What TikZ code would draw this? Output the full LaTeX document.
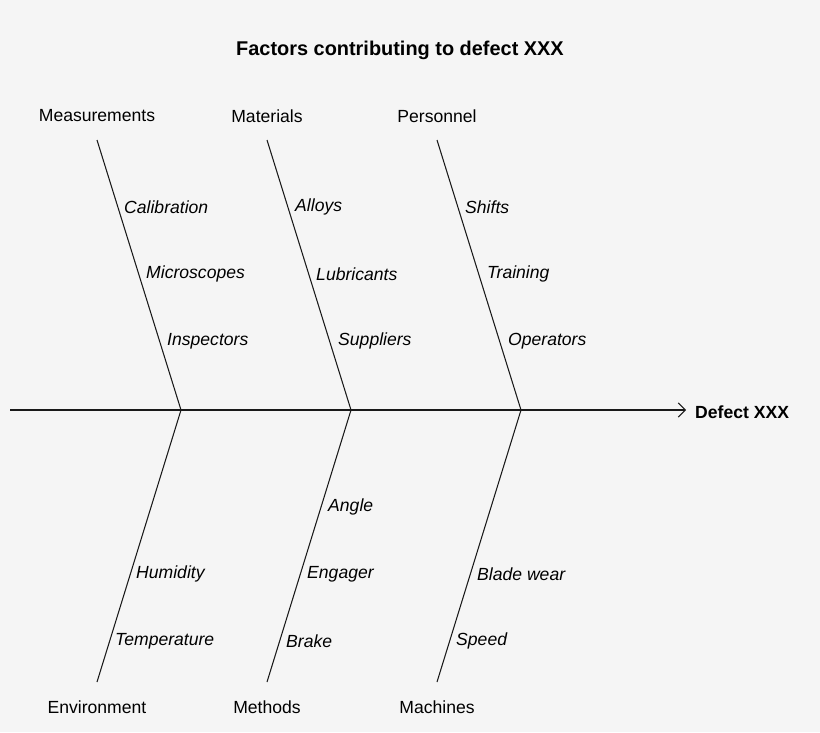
\documentclass[tikz,border=0pt]{standalone}
\usepackage{fontspec}
\setmainfont{Liberation Sans}
\usepackage{xcolor}
\usetikzlibrary{arrows.meta}
\definecolor{bgGray}{RGB}{245,245,245}
\definecolor{lineGray}{RGB}{25,25,25}
\tikzset{
  cause/.style={anchor=west, font=\fontsize{15}{18}\selectfont\itshape, inner sep=0pt},
  branch/.style={font=\fontsize{15}{18}\selectfont, inner sep=0pt},
  bone/.style={draw=lineGray, line width=0.9pt},
}
\begin{document}
\begin{tikzpicture}[x=0.03cm, y=-0.03cm]
  \fill[bgGray] (0,0) rectangle (820,732);
  \node[font=\fontsize{17}{20}\selectfont\bfseries] (title) at (400,50) {Factors contributing to defect XXX};

  % spine
  \coordinate (tail) at (10,410);
  \coordinate (head) at (686,410);
  \node[anchor=west, inner sep=0pt, font=\fontsize{15}{18}\selectfont\bfseries] (effect) at (695,412) {Defect XXX};
  \draw[bone, -{Straight Barb[length=6pt]}] (tail) -- (head);

  % bones
  \foreach \name/\xb/\lbl in {meas/97/Measurements, mat/267/Materials, pers/437/Personnel}
  {
    \coordinate (\name top) at (\xb,140);
    \coordinate (\name joint) at (\xb+84,410);
    \draw[bone] (\name top) -- (\name joint);
    \node[branch] (\name) at (\xb,116) {\lbl};
  }
  \foreach \name/\xb/\lbl in {env/97/Environment, meth/267/Methods, mach/437/Machines}
  {
    \coordinate (\name bot) at (\xb,682);
    \coordinate (\name joint) at (\xb+84,410);
    \draw[bone] (\name joint) -- (\name bot);
    \node[branch] (\name) at (\xb,707) {\lbl};
  }

  % causes
  \node[cause] (calib) at (124,207) {Calibration};
  \node[cause] (micro) at (146,274) {Microscopes};
  \node[cause] (insp) at (167,341) {Inspectors};
  \node[cause] (alloy) at (295,207) {Alloys};
  \node[cause] (lubr) at (316,274) {Lubricants};
  \node[cause] (supp) at (338,341) {Suppliers};
  \node[cause] (shift) at (465,207) {Shifts};
  \node[cause] (train) at (487,274) {Training};
  \node[cause] (oper) at (508,341) {Operators};
  \node[cause] (humid) at (136,574) {Humidity};
  \node[cause] (temp) at (115,641) {Temperature};
  \node[cause] (angle) at (328,507) {Angle};
  \node[cause] (engag) at (307,574) {Engager};
  \node[cause] (brake) at (286,641) {Brake};
  \node[cause] (blade) at (477,574) {Blade wear};
  \node[cause] (speed) at (456,641) {Speed};
\end{tikzpicture}
\end{document}
